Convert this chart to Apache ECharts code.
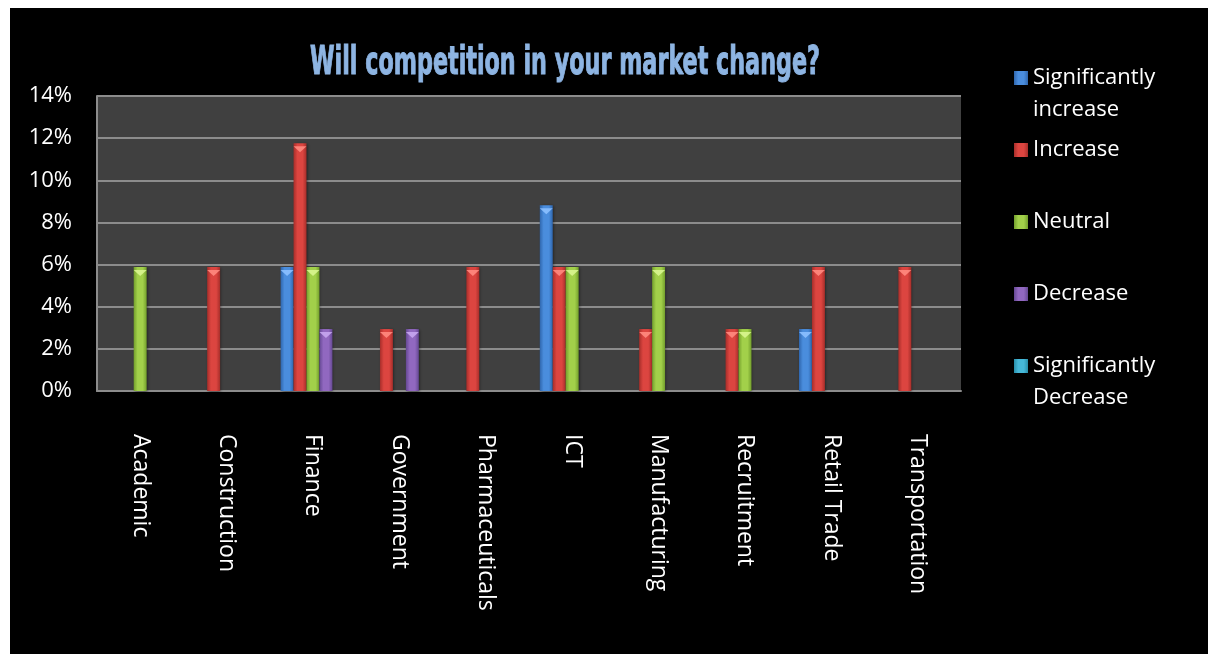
<!DOCTYPE html>
<html>
<head>
<meta charset="utf-8">
<script src="https://cdn.jsdelivr.net/npm/echarts@6/dist/echarts.min.js"></script>
<style>
  html, body { margin: 0; padding: 0; background: #ffffff; }
  #chart { position: absolute; left: 10px; top: 8px; width: 1198px; height: 646px; }
</style>
</head>
<body>
<div id="chart"></div>
<script>
// Survey answers per industry, in percent of respondents
const categories = ['Academic', 'Construction', 'Finance', 'Government', 'Pharmaceuticals',
  'ICT', 'Manufacturing', 'Recruitment', 'Retail Trade', 'Transportation'];
const seriesNames = ['Significantly increase', 'Increase', 'Neutral', 'Decrease', 'Significantly Decrease'];
const sigIncrease = [0, 0, 5.88, 0, 0, 8.82, 0, 0, 2.94, 0];
const increase    = [0, 5.88, 11.76, 2.94, 5.88, 5.88, 2.94, 2.94, 5.88, 5.88];
const neutral     = [5.88, 0, 5.88, 0, 0, 5.88, 5.88, 2.94, 0, 0];
const decrease    = [0, 0, 2.94, 2.94, 0, 0, 0, 0, 0, 0];
const sigDecrease = [0, 0, 0, 0, 0, 0, 0, 0, 0, 0];
const yTicks = { min: 0, max: 14, step: 2 };
const chartTitle = 'Will competition in your market change?';

const seriesValues = [sigIncrease, increase, neutral, decrease, sigDecrease];

// dark edge, bright centre, bevel cap colour for each answer
const palette = [
  { edge: '#2f66ad', mid: '#4a8ddd', cap: '#8cc0ff' },
  { edge: '#a72e2a', mid: '#dc4540', cap: '#ff8a80' },
  { edge: '#739f2c', mid: '#a2d04a', cap: '#d9f590' },
  { edge: '#654893', mid: '#9168c0', cap: '#c7a6f0' },
  { edge: '#288ea9', mid: '#46b8d8', cap: '#9ae6f8' }
];

function barGradient(p) {
  return {
    type: 'linear', x: 0, y: 0, x2: 1, y2: 0,
    colorStops: [
      { offset: 0, color: p.edge },
      { offset: 0.3, color: p.mid },
      { offset: 0.7, color: p.mid },
      { offset: 1, color: p.edge }
    ]
  };
}

const FONT = "'Open Sans', 'Liberation Sans', sans-serif";
const GAP = '0%';
const CAT_GAP = '25%';

const series = [];
seriesNames.forEach((name, i) => {
  series.push({
    name: name,
    type: 'bar',
    barGap: GAP,
    barCategoryGap: CAT_GAP,
    data: seriesValues[i],
    itemStyle: {
      color: barGradient(palette[i]),
      shadowColor: 'rgba(0,0,0,0.5)',
      shadowBlur: 3,
      shadowOffsetX: 1,
      shadowOffsetY: 1
    },
    z: 2
  });
});
// bevelled top of every non-zero bar
seriesNames.forEach((name, i) => {
  series.push({
    name: 'cap ' + i,
    type: 'pictorialBar',
    barGap: GAP,
    barCategoryGap: CAT_GAP,
    symbol: 'path://M0,0 L10,0 L5,5 Z',
    symbolSize: ['100%', 6],
    symbolPosition: 'end',
    symbolOffset: [0, '50%'],
    data: seriesValues[i].map(v => (v > 0 ? v : '-')),
    itemStyle: { color: palette[i].cap, opacity: 0.9 },
    silent: true,
    z: 3
  });
});

// one legend block per answer, stacked down the right side;
// two-word "Significantly" entries wrap with the marker beside the first line
const legendTops = [22, 126, 198, 270, 310];
const legends = seriesNames.map((name, i) => {
  const twoLine = name.indexOf('Significantly') === 0;
  return {
    data: [name],
    left: 1004,
    top: legendTops[i],
    orient: 'vertical',
    padding: 0,
    itemWidth: 14,
    itemHeight: 14,
    icon: 'rect',
    selectedMode: false,
    formatter: n => (twoLine ? '\n' + n.replace(' ', '\n') : n),
    textStyle: {
      color: '#ffffff',
      fontFamily: FONT,
      fontSize: 22,
      lineHeight: 32
    }
  };
});

// condensed heading: squeeze the bold face to its box width
const TITLE_FONT = "bold 39px 'DejaVu Sans Condensed', 'DejaVu Sans', sans-serif";
const TITLE_WIDTH = 510;
const measureCtx = document.createElement('canvas').getContext('2d');
measureCtx.font = TITLE_FONT;
const titleScale = Math.min(1, TITLE_WIDTH / measureCtx.measureText(chartTitle).width);

const chart = echarts.init(document.getElementById('chart'));
chart.setOption({
  backgroundColor: '#000000',
  animation: false,
  graphic: [{
    type: 'text',
    x: 555,
    y: 56,
    scaleX: titleScale,
    style: {
      text: chartTitle,
      font: TITLE_FONT,
      fill: '#8db4e2',
      stroke: '#8db4e2',
      lineWidth: 1,
      align: 'center',
      verticalAlign: 'middle'
    }
  }],
  legend: legends,
  grid: {
    left: 87, top: 88, right: 247, bottom: 263,
    show: true,
    backgroundColor: '#404040',
    borderWidth: 0
  },
  xAxis: {
    type: 'category',
    data: categories,
    axisLine: { show: true, lineStyle: { color: '#8c8c8c', width: 2 } },
    axisTick: { show: false },
    axisLabel: {
      rotate: -90,
      interval: 0,
      margin: 43,
      color: '#ffffff',
      fontFamily: FONT,
      fontSize: 23
    }
  },
  yAxis: {
    type: 'value',
    min: yTicks.min,
    max: yTicks.max,
    interval: yTicks.step,
    axisLine: { show: true, lineStyle: { color: '#8c8c8c', width: 2 } },
    axisTick: { show: false },
    splitLine: { show: true, lineStyle: { color: '#8c8c8c', width: 2 } },
    axisLabel: {
      formatter: '{value}%',
      margin: 25,
      color: '#ffffff',
      fontFamily: FONT,
      fontSize: 22
    }
  },
  series: series
});
</script>
</body>
</html>
